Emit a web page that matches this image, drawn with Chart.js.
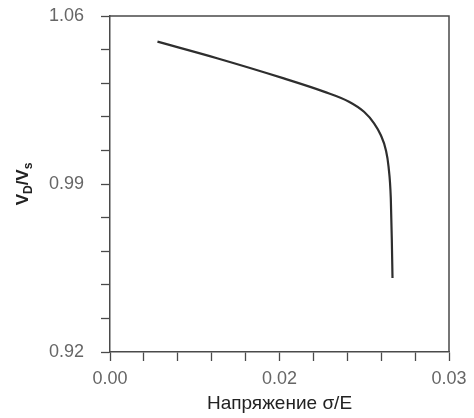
<!DOCTYPE html>
<html>
<head>
<meta charset="utf-8">
<script src="https://cdn.jsdelivr.net/npm/chart.js@4/dist/chart.umd.min.js"></script>
<style>
  html, body { margin: 0; padding: 0; background: #fff; }
  #wrap { width: 474px; height: 418px; }
</style>
</head>
<body>
<div id="wrap"><canvas id="ratioChart" width="474" height="418"></canvas></div>
<script>
// strain sigma/E and the velocity ratio
const strain = [0.00420, 0.00947, 0.01538, 0.01893, 0.02115, 0.02248, 0.02337, 0.02396, 0.02441, 0.02465, 0.02485, 0.02494, 0.02500];
const ratio  = [1.0493, 1.0424, 1.0340, 1.0285, 1.0243, 1.0201, 1.0153, 1.0104, 1.0042, 0.9972, 0.9840, 0.9667, 0.9508];

const xTickText = ['0.00', '', '', '', '', '0.02', '', '', '', '', '0.03'];
const yTickText = ['0.92', '', '', '', '', '0.99', '', '', '', '', '1.06'];
const xTitle = 'Напряжение σ/E';

const axisColor = '#4a4a4a';
const labelFont = { family: 'Liberation Sans', size: 18 };

// frame around the plot + y axis title with subscripts
const framePlugin = {
    id: 'frame',
    afterDraw(chart) {
        const { ctx, chartArea } = chart;
        ctx.save();
        ctx.strokeStyle = axisColor;
        ctx.lineWidth = 1.5;
        ctx.beginPath();
        ctx.moveTo(chartArea.left, chartArea.top);
        ctx.lineTo(chartArea.right, chartArea.top);
        ctx.lineTo(chartArea.right, chartArea.bottom);
        ctx.stroke();

        // V_D/V_s rotated
        const cy = (chartArea.top + chartArea.bottom) / 2;
        ctx.translate(23, cy);
        ctx.rotate(-Math.PI / 2);
        ctx.fillStyle = '#222';
        ctx.textBaseline = 'alphabetic';
        const big = 'bold 17px "Liberation Sans"';
        const small = 'bold 12px "Liberation Sans"';
        const parts = [['V', big, 0], ['D', small, 4], ['/V', big, 0], ['s', small, 4]];
        let total = 0;
        parts.forEach(p => { ctx.font = p[1]; total += ctx.measureText(p[0]).width; });
        let x = -total / 2;
        parts.forEach(p => {
            ctx.font = p[1];
            ctx.fillText(p[0], x, 5 + p[2]);
            x += ctx.measureText(p[0]).width;
        });
        ctx.restore();
    }
};

const ctx = document.getElementById('ratioChart').getContext('2d');
new Chart(ctx, {
    type: 'line',
    data: {
        datasets: [{
            data: strain.map((s, i) => ({ x: s, y: ratio[i] })),
            borderColor: '#2e2e2e',
            borderWidth: 2.2,
            pointRadius: 0,
            fill: false,
            cubicInterpolationMode: 'monotone'
        }]
    },
    options: {
        responsive: false,
        animation: false,
        layout: { autoPadding: false, padding: { top: 16, right: 25, left: 0, bottom: 0 } },
        plugins: {
            legend: { display: false },
            tooltip: { enabled: false }
        },
        scales: {
            x: {
                type: 'linear',
                min: 0,
                max: 0.03,
                afterFit: scale => { scale.height = 66; scale.paddingLeft = 0; scale.paddingRight = 0; },
                border: { color: axisColor, width: 1.5 },
                grid: { drawOnChartArea: false, tickLength: 9, tickColor: axisColor, tickWidth: 1.3 },
                ticks: {
                    stepSize: 0.003,
                    autoSkip: false,
                    maxRotation: 0,
                    padding: 7,
                    color: '#666',
                    font: labelFont,
                    callback: (v, i) => xTickText[i]
                },
                title: {
                    display: true,
                    text: xTitle,
                    color: '#222',
                    font: { family: 'Liberation Sans', size: 19 },
                    padding: { top: 0, bottom: 3 }
                }
            },
            y: {
                min: 0.92,
                max: 1.06,
                afterFit: scale => { scale.width = 110; scale.paddingTop = 0; scale.paddingBottom = 0; },
                border: { color: axisColor, width: 1.5 },
                grid: { drawOnChartArea: false, tickLength: 9, tickColor: axisColor, tickWidth: 1.3 },
                ticks: {
                    stepSize: 0.014,
                    autoSkip: false,
                    padding: 17,
                    color: '#666',
                    font: labelFont,
                    callback: (v, i) => yTickText[i]
                }
            }
        }
    },
    plugins: [framePlugin]
});
</script>
</body>
</html>
